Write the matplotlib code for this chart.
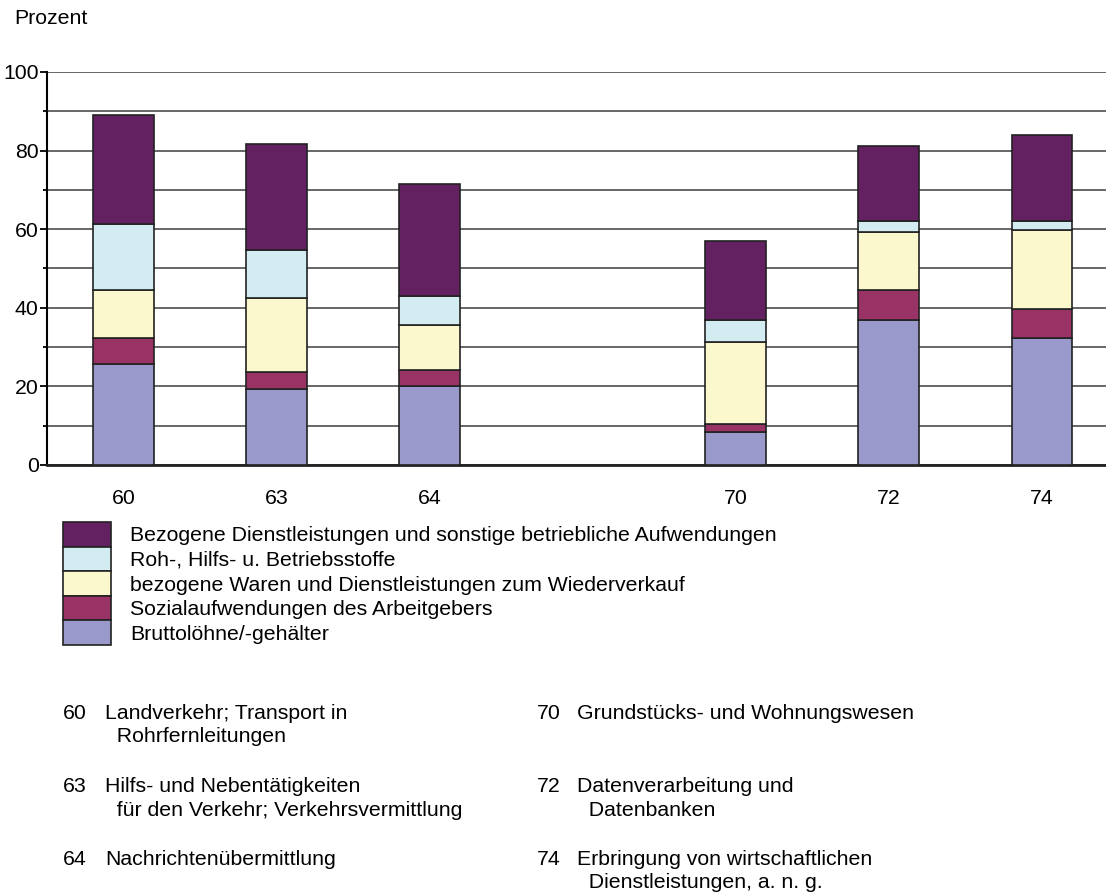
import matplotlib.pyplot as plt
import matplotlib.patches as mpatches
from matplotlib.ticker import MultipleLocator
import numpy as np

plt.rcParams['font.family'] = ['Liberation Sans', 'DejaVu Sans']

# Wirtschaftszweige (Position 3 bleibt frei)
branchen = ['60', '63', '64', '70', '72', '74']
positionen = [0, 1, 2, 4, 5, 6]

# Anteile in Prozent, von unten nach oben gestapelt
bruttoloehne = [25.8, 19.3, 20.2, 8.5, 37.0, 32.4]
sozialaufw = [6.6, 4.4, 4.0, 2.0, 7.6, 7.2]
waren = [12.2, 18.9, 11.3, 20.9, 14.7, 20.3]
rohstoffe = [16.7, 12.1, 7.5, 5.6, 2.8, 2.2]
dienstleist = [27.8, 27.1, 28.5, 19.9, 19.1, 21.9]

serien = [
    ('Bruttolöhne/-gehälter', bruttoloehne, '#9999cc'),
    ('Sozialaufwendungen des Arbeitgebers', sozialaufw, '#993366'),
    ('bezogene Waren und Dienstleistungen zum Wiederverkauf', waren, '#fbf8cd'),
    ('Roh-, Hilfs- u. Betriebsstoffe', rohstoffe, '#d3ecf2'),
    ('Bezogene Dienstleistungen und sonstige betriebliche Aufwendungen', dienstleist, '#632161'),
]

fussnoten_links = [
    ('60', 'Landverkehr; Transport in\n  Rohrfernleitungen'),
    ('63', 'Hilfs- und Nebentätigkeiten\n  für den Verkehr; Verkehrsvermittlung'),
    ('64', 'Nachrichtenübermittlung'),
]
fussnoten_rechts = [
    ('70', 'Grundstücks- und Wohnungswesen'),
    ('72', 'Datenverarbeitung und\n  Datenbanken'),
    ('74', 'Erbringung von wirtschaftlichen\n  Dienstleistungen, a. n. g.'),
]

W, H = 1106, 893
fs = 15.3
fs_px = fs * 100 / 72

fig = plt.figure(figsize=(W / 100, H / 100), dpi=100)
ax = fig.add_axes([47 / W, 1 - 465 / H, 1 - 47 / W, (465 - 72) / H])

# Gestapelte Säulen
unten = np.zeros(len(branchen))
handles = []
for name, werte, farbe in serien:
    ax.bar(positionen, werte, bottom=unten, width=0.395, color=farbe,
           edgecolor='#222222', linewidth=1.2, zorder=3)
    unten += np.array(werte)
    handles.append(mpatches.Patch(facecolor=farbe, edgecolor='#222222',
                                  linewidth=1.2, label=name))

ax.set_ylim(0, 100)
ax.set_xlim(-0.5, 6.42)
ax.set_xticks(positionen)
ax.set_xticklabels(branchen)
ax.yaxis.set_major_locator(MultipleLocator(20))
ax.yaxis.set_minor_locator(MultipleLocator(10))
ax.grid(True, axis='y', which='both', color='#5a5a5a', linewidth=1.3, zorder=1)

ax.tick_params(axis='x', length=0, pad=17, labelsize=fs)
ax.tick_params(axis='y', which='major', length=5, width=1.3, pad=1, labelsize=fs)
ax.tick_params(axis='y', which='minor', length=3, width=1.3)
for s in ['top', 'right']:
    ax.spines[s].set_visible(False)
ax.spines['left'].set_linewidth(1.5)
ax.spines['bottom'].set_linewidth(2)
ax.spines['bottom'].set_color('#222222')

fig.text(14 / W, 1 - 19 / H, 'Prozent', fontsize=fs, va='center', ha='left')

# Legende
hh = (24.6 / fs_px - 0.245) / 0.65
fig.legend(handles=handles[::-1], loc='upper left',
           bbox_to_anchor=(63 / W, 1 - 522 / H), frameon=False,
           fontsize=fs, handlelength=48 / fs_px,
           handleheight=hh, labelspacing=0,
           handletextpad=19 / fs_px, borderpad=0, borderaxespad=0)

# Erläuterungen der Wirtschaftszweige
zeilen_y = [704, 777, 850]
for (nr, txt), y in zip(fussnoten_links, zeilen_y):
    fig.text(63 / W, 1 - y / H, nr, fontsize=fs, va='top', ha='left')
    fig.text(105 / W, 1 - y / H, txt, fontsize=fs, va='top', ha='left', linespacing=1.3)
for (nr, txt), y in zip(fussnoten_rechts, zeilen_y):
    fig.text(537 / W, 1 - y / H, nr, fontsize=fs, va='top', ha='left')
    fig.text(577 / W, 1 - y / H, txt, fontsize=fs, va='top', ha='left', linespacing=1.3)

fig.savefig('out.png', dpi=100)
